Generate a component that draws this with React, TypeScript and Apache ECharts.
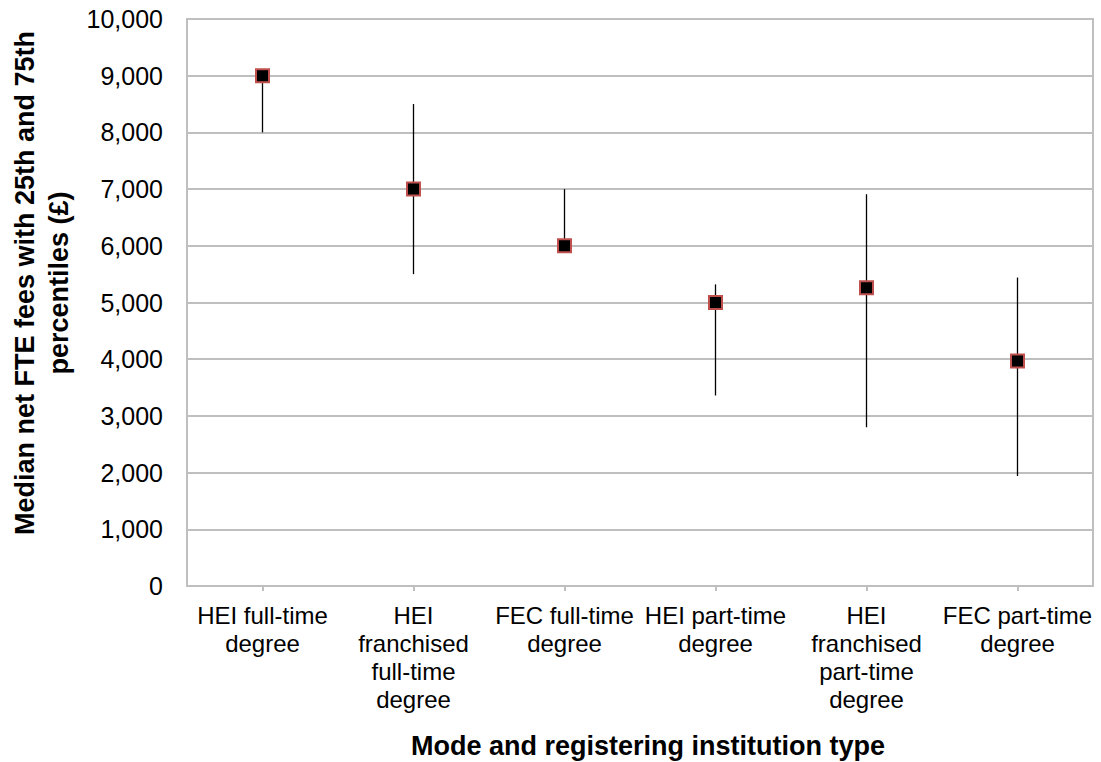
import React, { useEffect, useRef } from "react";
import * as echarts from "echarts";

const categories: string[] = [
  "HEI full-time\ndegree",
  "HEI\nfranchised\nfull-time\ndegree",
  "FEC full-time\ndegree",
  "HEI part-time\ndegree",
  "HEI\nfranchised\npart-time\ndegree",
  "FEC part-time\ndegree",
];
const medianFee: number[] = [9000, 7000, 6000, 5000, 5260, 3970];
const p25Fee: number[] = [8000, 5500, 6000, 3360, 2800, 1940];
const p75Fee: number[] = [9000, 8500, 7000, 5320, 6910, 5440];

const yAxisTitle = "Median net FTE fees with 25th and 75th\npercentiles (£)";
const xAxisTitle = "Mode and registering institution type";

const FONT = '"Liberation Sans", Arial, Helvetica, sans-serif';

export default function App() {
  const ref = useRef<HTMLDivElement>(null);

  useEffect(() => {
    if (!ref.current) return;
    const chart = echarts.init(ref.current, undefined, { renderer: "svg" });
    const option: any = {
      animation: false,
      backgroundColor: "#ffffff",
      textStyle: { fontFamily: FONT, color: "#000" },
      grid: {
        left: 187,
        right: 8,
        top: 19,
        bottom: 176,
        show: true,
        borderColor: "#bfbfbf",
        borderWidth: 2,
      },
      xAxis: {
        type: "category",
        data: categories,
        boundaryGap: true,
        axisLine: { show: true, lineStyle: { color: "#bfbfbf", width: 2 } },
        axisTick: { show: true, alignWithLabel: true, length: 5, lineStyle: { color: "#bfbfbf", width: 2 } },
        axisLabel: {
          interval: 0,
          margin: 15,
          fontSize: 24,
          lineHeight: 28,
          color: "#000",
          fontFamily: FONT,
        },
        splitLine: { show: false },
      },
      yAxis: {
        type: "value",
        min: 0,
        max: 10000,
        interval: 1000,
        axisLine: { show: true, lineStyle: { color: "#bfbfbf", width: 2 } },
        axisTick: { show: false },
        axisLabel: {
          margin: 24,
          fontSize: 25,
          color: "#000",
          fontFamily: FONT,
          formatter: (v: number) => v.toLocaleString("en-GB"),
        },
        splitLine: { show: true, lineStyle: { color: "#bfbfbf", width: 2 } },
      },
      graphic: [
        {
          type: "text",
          x: 42,
          y: 283,
          rotation: Math.PI / 2,
          style: {
            text: yAxisTitle,
            font: `bold 27px ${FONT}`,
            fill: "#000",
            align: "center",
            verticalAlign: "middle",
            lineHeight: 34,
          },
        },
        {
          type: "text",
          x: 648,
          y: 746,
          style: {
            text: xAxisTitle,
            font: `bold 27px ${FONT}`,
            fill: "#000",
            align: "center",
            verticalAlign: "middle",
          },
        },
      ],
      series: [
        {
          type: "custom",
          name: "Interquartile range",
          data: categories.map((_, i) => [i, p25Fee[i], p75Fee[i]]),
          encode: { x: 0, y: [1, 2] },
          z: 2,
          renderItem: (params: any, api: any) => {
            const idx = api.value(0);
            const lo = api.coord([idx, api.value(1)]);
            const hi = api.coord([idx, api.value(2)]);
            return {
              type: "line",
              shape: { x1: lo[0], y1: lo[1], x2: hi[0], y2: hi[1] },
              style: { stroke: "#000", lineWidth: 1.3 },
            };
          },
        },
        {
          type: "scatter",
          name: "Median",
          data: medianFee,
          symbol: "rect",
          symbolSize: 13,
          z: 3,
          itemStyle: { color: "#000", borderColor: "#c0504d", borderWidth: 2, opacity: 1 },
        },
      ],
    };
    chart.setOption(option);
    return () => chart.dispose();
  }, []);

  return (
    <div
      ref={ref}
      style={{ position: "absolute", left: 0, top: 0, width: 1101, height: 762, background: "#fff" }}
    />
  );
}
